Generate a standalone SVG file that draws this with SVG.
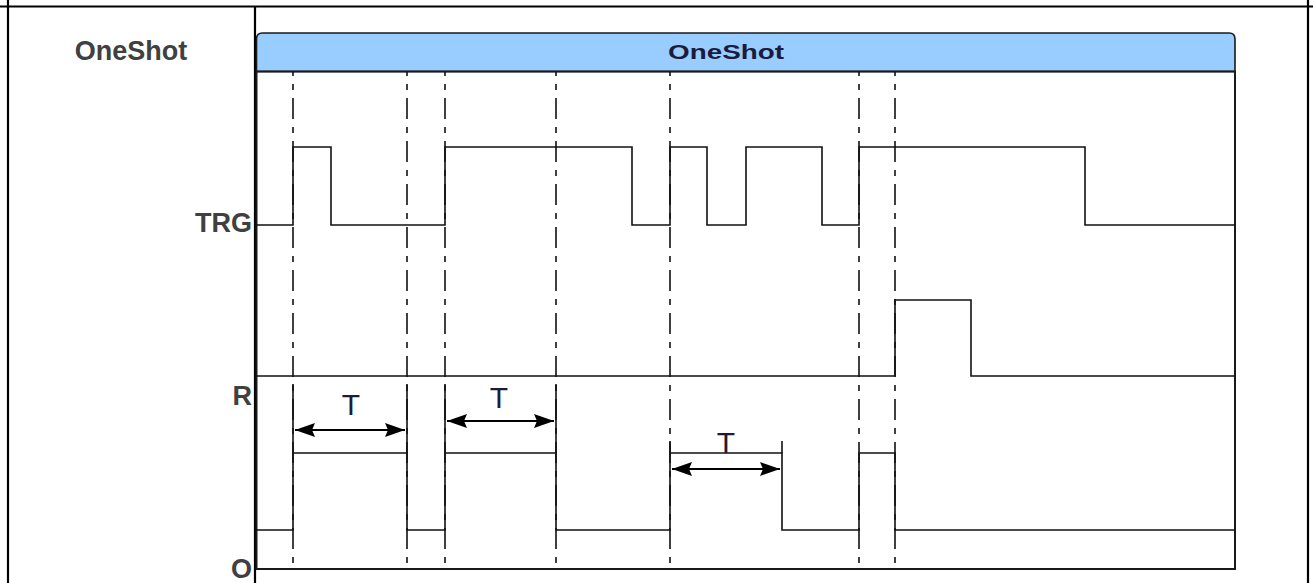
<svg xmlns="http://www.w3.org/2000/svg" width="1313" height="583" viewBox="0 0 1313 583">
<style>
.tbl{stroke:#000;stroke-width:2.2;fill:none}
.lbl{font-family:"Liberation Sans",Arial,sans-serif;font-weight:bold;font-size:27px;fill:#404040}
.frame{stroke:#1a1a1a;stroke-width:2;fill:none}
.sig{stroke:#111;stroke-width:1.6;fill:none;stroke-linejoin:miter}
.dd{stroke:#111;stroke-width:1.6;fill:none;stroke-dasharray:21 8 6 8;stroke-dashoffset:17}
.ext{stroke:#111;stroke-width:1.6}
.arr{stroke:#000;stroke-width:1.8;fill:none;marker-start:url(#ah);marker-end:url(#ah)}
.tt{font-family:"Liberation Sans",Arial,sans-serif;font-size:30px;fill:#1c1c3a;text-anchor:middle}
</style>
<defs>
<marker id="ah" viewBox="0 0 20 14" refX="20" refY="7" markerWidth="20" markerHeight="14" markerUnits="userSpaceOnUse" orient="auto-start-reverse">
<path d="M0,0 L20,7 L0,14 L3,7 Z" fill="#000"/>
</marker>
</defs>
<g id="table">
<line class="tbl" x1="0" y1="6.5" x2="1313" y2="6.5"/>
<line class="tbl" x1="8" y1="0" x2="8" y2="583"/>
<line class="tbl" x1="255" y1="6.5" x2="255" y2="583"/>
<line class="tbl" x1="1308" y1="0" x2="1308" y2="583"/>
</g>
<g id="labels">
<text class="lbl" x="131" y="60" text-anchor="middle">OneShot</text>
<text class="lbl" x="252" y="232" text-anchor="end">TRG</text>
<text class="lbl" x="252" y="405" text-anchor="end">R</text>
<text class="lbl" x="252" y="578" text-anchor="end">O</text>
</g>
<g id="header">
<path d="M256.5,71.5 V39 Q256.5,33 262.5,33 H1229 Q1235,33 1235,39 V71.5 Z" fill="#99CCFF" stroke="#1a1a1a" stroke-width="1.6"/>
<text x="726" y="59" font-family="'Liberation Sans Narrow','Liberation Sans',Arial,sans-serif" font-weight="bold" font-size="20" fill="#1b1b3c" text-anchor="middle" textLength="116" lengthAdjust="spacingAndGlyphs">OneShot</text>
</g>
<g id="frame">
<rect class="frame" x="256.5" y="71.5" width="978.5" height="497.5"/>
</g>
<g id="gridlines">
<line class="dd" x1="293" y1="72" x2="293" y2="569"/>
<line class="dd" x1="407" y1="72" x2="407" y2="569"/>
<line class="dd" x1="445" y1="72" x2="445" y2="569"/>
<line class="dd" x1="556" y1="72" x2="556" y2="569"/>
<line class="dd" x1="670" y1="72" x2="670" y2="569"/>
<line class="dd" x1="859" y1="72" x2="859" y2="569"/>
<line class="dd" x1="895" y1="72" x2="895" y2="569"/>
</g>
<g id="signal-TRG">
<path class="sig" d="M256,225 H293 V147 H331 V225 H445 V147 H632 V225 H670 V147 H707 V225 H746 V147 H822 V225 H859 V147 H1085 V225 H1235"/>
</g>
<g id="signal-R">
<path class="sig" d="M256,376 H895 V300 H971 V376 H1235"/>
</g>
<g id="signal-O">
<path class="sig" d="M256,530 H293 V453 H407 V530 H445 V453 H556 V530 H670 V453 H782 V530 H859 V453 H895 V530 H1235"/>
</g>
<g id="connectors">
<line class="ext" x1="293" y1="384" x2="293" y2="453"/>
<line class="ext" x1="407" y1="384" x2="407" y2="453"/>
<line class="ext" x1="445" y1="384" x2="445" y2="453"/>
<line class="ext" x1="556" y1="384" x2="556" y2="453"/>
<line class="ext" x1="670" y1="441" x2="670" y2="453"/>
<line class="ext" x1="782" y1="441" x2="782" y2="453"/>
<line class="arr" x1="295" y1="430" x2="405" y2="430"/>
<line class="arr" x1="447" y1="421" x2="554" y2="421"/>
<line class="arr" x1="672" y1="469" x2="780" y2="469"/>
</g>
<g id="dimension-labels">
<text class="tt" x="351" y="415">T</text>
<text class="tt" x="499" y="408">T</text>
<text class="tt" x="726" y="453">T</text>
</g>
</svg>
